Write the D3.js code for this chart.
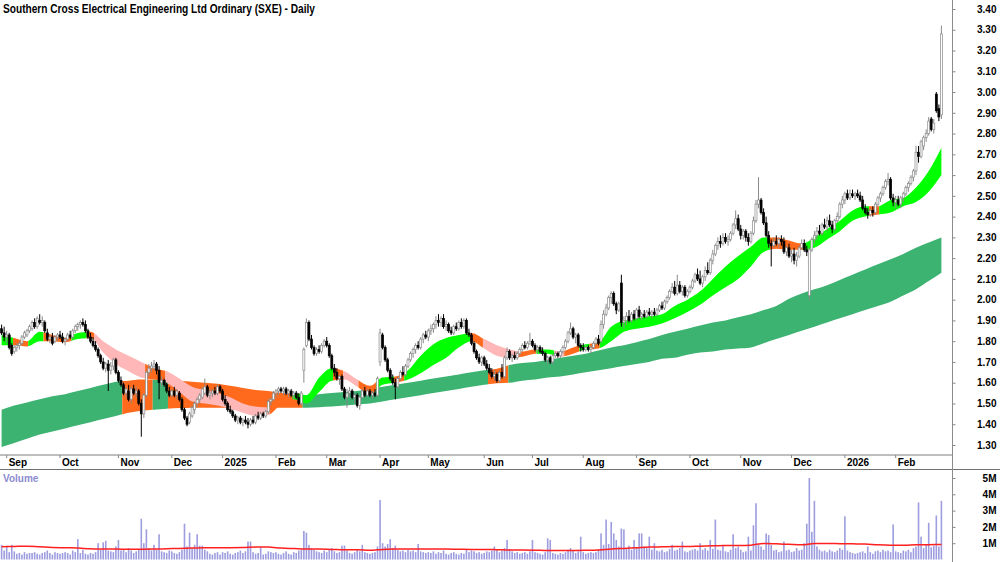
<!DOCTYPE html>
<html>
<head>
<meta charset="utf-8">
<script src="https://cdn.jsdelivr.net/npm/d3@7"></script>
<style>
  body { margin: 0; background: #fff; }
  svg { display: block; font-family: 'Liberation Sans', Arial, sans-serif; }
  .lbl { font-size: 10px; font-weight: bold; fill: #000; }
</style>
</head>
<body>
<svg id="chart" width="1000" height="562"></svg>
<script>
// daily candles, prices in cents, one row per month (Aug 29 2024 .. Feb 26 2026)
const opens = [
  186,184,182,183,178,175,177,178,179,182,183,185,186,189,187,190,189,189,184,181,182,180,182,
  183,182,180,181,183,182,185,187,188,189,188,185,182,180,178,176,173,170,167,169,166,168,171,
  165,161,159,155,156,152,157,155,156,150,145,154,165,167,168,169,166,160,161,159,156,
  154,156,154,155,152,147,143,141,144,147,150,152,153,155,158,154,155,156,155,158,
  156,152,150,147,146,144,142,143,141,142,141,140,142,141,144,143,145,144,146,151,152,
  155,156,157,156,157,155,156,154,155,153,150,166,178,189,181,177,174,176,175,178,
  180,178,173,167,165,162,163,157,153,155,156,153,154,149,153,156,154,156,154,155,154,
  170,183,177,171,166,162,160,158,162,165,164,168,171,174,176,178,177,181,183,
  182,185,186,188,190,189,191,187,188,185,184,187,186,189,187,190,184,183,179,175,172,170,
  172,169,167,165,163,164,161,165,163,172,175,172,173,172,174,176,178,177,179,180,
  178,176,177,175,174,171,172,170,173,174,173,175,177,180,184,186,182,183,178,177,176,177,176,
  177,179,181,180,188,193,196,201,203,198,195,208,189,190,192,190,193,191,195,192,193,
  192,194,193,194,193,195,197,196,199,201,204,206,203,207,204,206,202,204,206,209,212,210,
  208,211,214,213,219,222,226,228,227,230,228,229,232,236,239,234,231,233,230,228,232,238,246,
  248,242,237,231,227,226,228,227,229,228,223,225,221,222,219,221,225,227,224,202,
  224,229,231,233,232,236,235,238,236,234,238,240,246,248,251,249,251,250,251,250,248,
  244,242,241,243,242,246,249,251,254,257,258,249,247,248,246,249,251,254,256,259,
  262,271,269,274,278,280,287,282,299,292,289
];
const highs = [
  188,187,185,184,179,178,179,180,183,185,186,188,190,191,192,193,192,190,186,183,184,183,184,
  185,184,182,184,185,186,188,189,190,191,190,186,184,182,180,177,174,172,170,171,170,172,172,
  166,163,160,158,159,158,159,158,157,152,155,166,169,170,171,170,168,163,162,160,158,
  157,158,157,156,153,148,144,146,149,151,153,155,158,162,159,157,157,158,159,159,
  157,154,151,149,147,145,144,144,143,144,143,143,144,145,146,146,146,147,152,153,156,
  157,158,158,158,158,157,157,156,156,155,156,177,191,190,183,178,177,178,179,181,
  182,179,174,169,167,164,164,158,157,158,157,155,155,154,157,158,157,157,156,157,163,
  186,184,178,172,167,164,162,163,166,168,169,172,175,177,179,180,182,184,185,
  186,188,189,192,193,192,193,190,189,187,188,189,190,191,191,191,186,184,180,176,174,173,
  173,171,169,167,166,165,166,169,173,177,176,174,175,175,177,179,180,180,184,181,
  179,178,178,177,175,173,173,174,175,175,176,178,181,185,189,187,184,184,179,179,178,178,178,
  180,182,183,190,195,198,202,204,204,199,199,212,192,194,195,194,195,196,197,194,195,
  195,196,195,196,196,198,199,200,202,205,208,209,212,209,207,207,205,207,210,213,215,214,
  212,216,218,220,224,227,230,231,232,232,231,233,237,243,241,236,234,234,232,233,240,248,259,
  249,244,240,233,229,230,231,230,231,230,226,227,224,225,223,226,229,229,226,225,
  230,233,235,236,237,239,240,241,238,239,242,247,250,252,253,253,253,252,253,252,250,
  246,244,244,245,247,250,252,255,258,261,259,251,250,250,250,252,255,257,260,263,
  274,274,277,279,282,288,288,287,300,294,332
];
const lows = [
  183,180,179,176,173,174,175,176,178,181,182,184,185,186,186,188,187,184,180,179,178,179,180,
  181,179,178,180,181,181,184,185,186,187,184,181,179,177,175,172,169,166,165,156,164,166,164,
  160,158,154,153,151,150,154,153,149,134,143,153,163,165,166,164,152,158,158,155,153,
  153,153,152,151,146,142,139,140,143,145,148,150,152,154,153,152,153,154,154,155,
  151,149,146,145,143,141,140,140,139,140,138,139,140,140,142,142,143,143,145,149,151,
  153,154,155,154,154,153,153,152,152,149,149,160,177,180,176,173,173,174,174,177,
  177,172,166,163,161,159,156,152,148,153,152,150,148,147,152,153,153,153,152,153,153,
  168,176,170,165,161,159,152,157,161,163,163,167,170,172,174,176,176,179,181,
  180,183,184,186,187,187,186,185,184,183,183,185,185,186,186,183,182,178,174,171,169,168,
  168,166,164,162,161,160,160,162,162,171,171,170,171,171,173,175,176,176,178,177,
  175,174,174,173,170,169,169,169,172,172,172,174,176,179,183,181,179,177,175,175,175,175,174,
  176,178,178,179,186,192,195,198,197,193,194,187,186,188,189,189,190,190,191,190,191,
  191,192,191,192,192,194,195,195,198,200,203,202,202,203,202,201,201,203,205,208,209,207,
  206,209,212,212,217,221,224,225,226,227,226,228,231,234,233,229,229,228,226,227,231,237,244,
  241,236,230,225,216,225,226,225,226,222,221,220,218,217,216,220,224,223,221,200,
  223,227,229,231,231,234,233,235,232,233,237,239,244,246,248,248,249,248,249,247,243,
  241,239,240,240,241,245,247,250,253,255,248,245,244,245,244,247,250,252,255,257,
  260,266,268,272,276,279,281,280,290,286,287
];
const closes = [
  184,182,183,177,174,177,178,179,182,184,185,187,189,187,191,189,190,185,181,182,179,182,183,
  182,180,181,183,182,185,187,188,189,188,185,182,180,178,176,173,170,167,169,166,168,171,165,
  161,159,155,157,152,157,155,156,150,145,154,165,167,168,169,166,160,161,159,156,154,
  156,154,156,152,147,143,140,145,148,150,152,154,157,158,154,155,156,155,158,156,
  152,150,147,146,144,142,143,141,142,141,140,142,141,144,143,145,144,146,151,152,155,
  156,157,156,157,155,156,154,155,153,150,155,176,189,181,177,174,176,175,178,180,
  178,173,167,165,162,163,157,153,155,156,153,154,149,153,156,154,156,154,155,154,162,
  184,177,171,166,162,160,158,162,165,164,168,171,174,176,178,177,181,183,182,
  185,186,188,190,189,191,187,188,185,184,187,186,189,187,190,184,183,179,175,172,170,172,
  169,167,165,163,164,161,165,163,172,175,172,173,172,174,176,178,177,179,180,178,
  176,177,175,174,171,172,170,173,174,173,175,177,180,184,186,182,183,178,177,176,177,176,177,
  179,181,179,188,193,196,201,203,198,195,198,189,190,192,190,193,191,195,192,193,192,
  194,193,194,193,195,197,196,199,201,204,206,203,207,204,206,202,204,206,209,212,210,208,
  211,214,213,219,222,226,228,227,230,228,229,232,236,239,234,231,233,230,228,232,238,246,248,
  242,237,231,227,226,228,227,229,228,223,225,221,222,219,221,225,227,224,223,224,
  229,231,233,232,236,235,238,236,234,238,240,246,248,251,249,251,250,251,250,248,244,
  242,241,243,242,246,249,251,254,257,258,249,247,248,246,249,251,254,256,259,262,
  271,269,276,278,280,286,282,285,291,288,328
];
// daily volume, millions of shares
const volumes = [
  0.90,0.55,0.80,0.45,0.90,0.50,0.35,0.40,0.30,0.45,0.35,0.40,0.40,0.45,0.35,0.30,0.40,0.45,0.55,0.40,0.30,0.45,0.40,
  0.35,0.40,0.45,0.40,0.30,0.55,0.45,1.25,0.40,0.60,0.35,0.30,0.40,0.35,0.45,1.00,0.60,1.05,1.15,0.55,0.50,0.45,0.80,
  1.20,0.55,0.60,0.45,0.70,0.55,0.40,0.50,0.65,2.50,1.00,1.85,0.70,0.55,0.90,0.60,1.55,0.50,0.45,0.40,0.55,
  0.50,0.40,0.35,0.45,0.60,2.20,0.80,1.65,0.70,0.90,1.55,0.85,0.85,0.60,0.50,0.35,0.30,0.40,0.45,0.30,
  0.45,0.40,0.50,0.35,0.30,0.40,0.45,0.55,0.40,0.50,1.10,1.10,0.45,0.35,0.40,0.75,0.30,0.35,0.50,0.45,0.40,
  0.45,0.35,0.30,0.40,0.50,0.35,0.30,0.45,0.40,0.55,0.60,1.75,1.65,0.90,0.70,0.60,0.50,0.45,0.40,0.55,
  0.45,0.60,0.70,0.50,0.40,0.45,0.85,0.85,0.55,0.40,0.35,0.45,0.60,0.50,0.90,0.45,0.40,0.35,0.40,0.45,0.80,
  3.65,1.00,0.80,0.95,1.25,0.70,0.85,0.60,0.50,0.55,0.45,0.60,0.50,0.55,0.45,0.95,0.50,0.45,0.40,
  0.45,0.40,0.50,0.35,0.45,0.40,0.55,0.35,0.30,0.40,0.45,0.35,0.30,0.40,0.35,0.60,0.45,0.55,0.50,0.40,0.45,0.35,
  0.40,0.50,0.45,0.55,0.80,0.60,0.45,0.55,0.70,1.20,0.65,0.50,0.40,0.45,0.35,0.40,0.45,0.35,0.50,1.20,
  0.45,0.40,0.35,0.30,0.45,1.30,1.20,0.40,0.35,0.30,0.40,0.35,0.45,0.60,0.70,0.55,0.40,0.50,1.40,0.45,0.35,0.40,0.45,
  0.40,0.45,0.60,1.60,0.90,2.45,0.95,2.30,1.60,1.20,0.80,1.90,1.85,0.70,0.85,0.60,1.20,0.75,1.60,1.60,0.80,
  0.70,1.40,0.60,1.00,0.55,0.50,0.60,0.45,0.50,0.65,0.90,0.55,0.60,0.70,1.10,0.50,0.45,0.55,0.60,0.65,0.55,1.00,
  0.60,0.70,0.55,1.20,0.65,2.45,0.60,0.55,0.90,0.50,0.45,0.60,1.55,0.70,0.80,0.60,0.45,0.50,1.40,0.55,2.10,3.45,0.90,
  0.80,0.60,1.60,1.50,0.90,0.55,0.60,0.45,0.50,1.10,0.55,0.60,0.45,0.50,0.70,0.55,0.60,1.00,2.20,5.00,
  1.70,3.60,0.80,0.60,0.50,0.55,0.45,0.60,0.50,0.45,0.55,0.70,0.60,2.65,0.55,0.45,0.40,0.35,0.40,0.45,0.50,
  0.40,0.80,0.45,0.35,0.50,0.55,0.45,0.60,0.50,0.55,0.45,2.15,0.50,0.45,0.40,0.55,0.50,0.60,0.45,0.70,
  0.80,3.50,1.40,0.70,0.90,2.25,0.75,0.85,2.70,0.80,3.60
];

// ribbons read every 5 trading days
const ribbonStep = 5;
const shortUpper = [1.83,1.815,1.80,1.845,1.83,1.815,1.84,1.845,1.80,1.76,1.73,1.70,1.67,1.655,1.62,1.58,1.565,1.55,1.53,1.50,
  1.485,1.48,1.535,1.55,1.54,1.625,1.67,1.655,1.615,1.585,1.625,1.63,1.66,1.73,1.785,1.815,1.83,1.84,1.81,1.78,
  1.76,1.75,1.76,1.76,1.75,1.77,1.785,1.795,1.87,1.90,1.91,1.92,1.93,1.97,2.00,2.04,2.10,2.16,2.21,2.255,
  2.30,2.30,2.285,2.27,2.30,2.34,2.38,2.43,2.45,2.45,2.48,2.49,2.54,2.62,2.73];
const shortLower = [1.78,1.78,1.775,1.80,1.80,1.795,1.81,1.815,1.745,1.69,1.655,1.625,1.615,1.60,1.555,1.51,1.50,1.49,1.475,1.455,
  1.44,1.445,1.495,1.52,1.50,1.555,1.61,1.615,1.58,1.545,1.59,1.60,1.615,1.645,1.685,1.72,1.77,1.80,1.765,1.73,
  1.72,1.725,1.74,1.74,1.725,1.74,1.76,1.765,1.80,1.845,1.86,1.87,1.885,1.91,1.94,1.975,2.02,2.06,2.10,2.16,
  2.23,2.245,2.24,2.24,2.25,2.29,2.33,2.38,2.40,2.41,2.42,2.45,2.47,2.52,2.60];
const longUpper = [1.47,1.49,1.505,1.52,1.535,1.545,1.56,1.575,1.59,1.605,1.61,1.615,1.615,1.615,1.61,1.605,1.60,1.595,1.585,1.575,
  1.565,1.56,1.55,1.545,1.54,1.545,1.55,1.555,1.56,1.57,1.58,1.59,1.60,1.61,1.62,1.63,1.64,1.65,1.66,1.667,
  1.685,1.695,1.70,1.71,1.72,1.73,1.74,1.755,1.77,1.78,1.795,1.81,1.83,1.845,1.86,1.875,1.89,1.90,1.915,1.93,
  1.95,1.97,2.005,2.03,2.05,2.07,2.095,2.12,2.145,2.17,2.195,2.22,2.25,2.275,2.30];
const longLower = [1.29,1.31,1.33,1.35,1.365,1.38,1.395,1.41,1.425,1.44,1.455,1.465,1.47,1.475,1.478,1.48,1.48,1.48,1.48,1.48,
  1.48,1.48,1.48,1.48,1.48,1.482,1.485,1.49,1.495,1.50,1.51,1.52,1.53,1.54,1.55,1.56,1.57,1.58,1.59,1.597,
  1.60,1.61,1.615,1.625,1.63,1.64,1.65,1.66,1.67,1.68,1.69,1.70,1.715,1.72,1.735,1.745,1.75,1.76,1.765,1.77,
  1.79,1.81,1.83,1.85,1.87,1.89,1.91,1.93,1.95,1.97,1.99,2.02,2.05,2.09,2.13];
// ribbon colour runs: first trading day of each run and its state
const shortRunStart = [0,5,11,17,28,34,37,57,65,106,115,131,135,141,148,155,159,185,190,204,211,218,222,228,232,236,303,316,342,346];
const shortRunState = ['g','o','g','o','g','o','p','o','p','o','g','o','p','o','g','o','g','o','p','o','g','p','o','g','o','g','o','g','o','g'];
const longRunStart = [0,48,60,66,119,192,200];
const longRunState = ['g','o','g','o','g','o','g'];
// volume average, every 5 trading days, millions
const volumeAvg = [0.78,0.80,0.82,0.78,0.74,0.72,0.70,0.66,0.64,0.64,0.63,0.63,0.64,0.66,0.68,0.70,0.72,0.72,0.72,0.73,
  0.76,0.76,0.70,0.67,0.64,0.64,0.62,0.60,0.60,0.56,0.62,0.64,0.65,0.65,0.64,0.64,0.63,0.62,0.62,0.60,
  0.58,0.58,0.57,0.55,0.55,0.55,0.56,0.58,0.64,0.68,0.72,0.76,0.78,0.80,0.80,0.82,0.84,0.86,0.86,0.88,
  0.98,0.96,0.93,0.90,0.98,0.98,0.97,0.96,0.95,0.90,0.88,0.88,0.90,0.91,0.92];

const firstDay = '2024-08-29';
// exchange holidays plus days with no bar in the source
const holidays = ['2024-12-25','2024-12-26','2025-01-01','2025-01-27','2025-04-18','2025-04-21','2025-04-25',
  '2025-06-09','2025-12-25','2025-12-26','2026-01-01','2026-01-26'];
const noTrade = ['2025-06-20','2025-07-10','2025-07-11','2025-07-14','2025-09-12','2025-10-08','2025-10-09','2025-10-10'];
const monthNames = ['Jan','Feb','Mar','Apr','May','Jun','Jul','Aug','Sep','Oct','Nov','Dec'];
const priceTicks = d3.range(13, 35).map(d => d / 10);
const volumeTicks = [1, 2, 3, 4, 5];

const width = 1000;
const height = 562;
const axisX = 952;

const colors = {
  g: '#00ff00',
  o: '#ff6a1c',
  p: '#ffb7b7',
  lg: '#3cb371',
  up: '#8a8a8a'
};

const N = closes.length;
console.assert(opens.length === N && highs.length === N && lows.length === N && volumes.length === N);

const x = d3.scaleLinear().domain([0, N - 1]).range([1.6, 941.4]);
const y = d3.scaleLinear().domain([1.30, 3.40]).range([445, 9]);
const v = d3.scaleLinear().domain([0, 5]).range([559.5, 478]);
const step = x(1) - x(0);

const svg = d3.select('#chart');

drawTitle();
drawRibbon(longUpper, longLower, longRunStart, longRunState, {g: colors.lg, o: colors.o}, 'long');
drawRibbon(shortUpper, shortLower, shortRunStart, shortRunState, colors, 'short');
drawCandles();
drawVolume();
drawAxes();

function tradingDays() {
  let days = [];
  let d = new Date(firstDay + 'T00:00:00');
  let fmt = d3.timeFormat('%Y-%m-%d');
  while (days.length < N) {
    let wd = d.getDay();
    let key = fmt(d);
    if (wd !== 0 && wd !== 6 && !holidays.includes(key) && !noTrade.includes(key)) days.push(new Date(d));
    d.setDate(d.getDate() + 1);
  }
  return days;
}

function drawTitle() {
  svg.append('text')
     .attr('x', 3)
     .attr('y', 13)
     .attr('font-size', 12)
     .attr('font-weight', 'bold')
     .attr('textLength', 312)
     .attr('lengthAdjust', 'spacingAndGlyphs')
     .text('Southern Cross Electrical Engineering Ltd Ordinary (SXE) - Daily');
}

function drawRibbon(upper, lower, runStart, runState, palette, id) {
  let pts = upper.map((u, k) => ({i: k * ribbonStep, hi: u, lo: lower[k]}));
  let area = d3.area()
               .x(d => x(d.i))
               .y0(d => y(d.lo))
               .y1(d => y(d.hi))
               .curve(d3.curveMonotoneX);

  let defs = svg.append('defs');
  let group = svg.append('g').attr('id', id + '-ribbon');

  runStart.forEach((s, r) => {
    let x0 = r === 0 ? x(0) - 2 : x(s) - step / 2;
    let x1 = r === runStart.length - 1 ? x(N - 1) + 2 : x(runStart[r + 1]) - step / 2;
    defs.append('clipPath')
        .attr('id', id + '-clip-' + r)
        .append('rect')
        .attr('x', x0)
        .attr('y', 0)
        .attr('width', x1 - x0)
        .attr('height', height);
    group.append('path')
         .attr('d', area(pts))
         .attr('fill', palette[runState[r]])
         .attr('clip-path', 'url(#' + id + '-clip-' + r + ')');
  });
}

function drawCandles() {
  let data = closes.map((c, i) => ({i: i, o: opens[i] / 100, h: highs[i] / 100, l: lows[i] / 100, c: c / 100}));
  let group = svg.append('g').attr('id', 'candles');

  group.selectAll('line')
       .data(data)
       .enter().append('line')
       .attr('x1', d => x(d.i))
       .attr('x2', d => x(d.i))
       .attr('y1', d => y(d.h))
       .attr('y2', d => y(d.l))
       .attr('stroke', d => d.c >= d.o ? colors.up : '#000')
       .attr('stroke-width', 1);

  group.selectAll('rect')
       .data(data)
       .enter().append('rect')
       .attr('x', d => x(d.i) - 1)
       .attr('y', d => y(Math.max(d.o, d.c)))
       .attr('width', 2)
       .attr('height', d => Math.max(1, Math.abs(y(d.o) - y(d.c))))
       .attr('fill', d => d.c >= d.o ? '#fff' : '#000')
       .attr('stroke', d => d.c >= d.o ? colors.up : '#000')
       .attr('stroke-width', 0.7);
}

function drawVolume() {
  let group = svg.append('g').attr('id', 'volume');

  group.selectAll('rect')
       .data(volumes)
       .enter().append('rect')
       .attr('x', (d, i) => x(i) - 0.8)
       .attr('y', d => v(d))
       .attr('width', 1.6)
       .attr('height', d => v(0) - v(d))
       .attr('fill', '#9d9de0');

  let line = d3.line()
               .x((d, k) => x(k * ribbonStep))
               .y(d => v(d))
               .curve(d3.curveMonotoneX);

  group.append('path')
       .attr('d', line(volumeAvg))
       .attr('fill', 'none')
       .attr('stroke', '#ff2020')
       .attr('stroke-width', 1.5);

  svg.append('text')
     .attr('x', 3)
     .attr('y', 482)
     .attr('font-size', 10)
     .attr('font-weight', 'bold')
     .attr('fill', '#8c8cd0')
     .text('Volume');
}

function drawAxes() {
  // date strip
  svg.append('line')
     .attr('x1', 0).attr('x2', axisX)
     .attr('y1', 455).attr('y2', 455)
     .attr('stroke', '#a8a8a8').attr('stroke-width', 1.5);
  svg.append('line')
     .attr('x1', 0).attr('x2', width)
     .attr('y1', 469.5).attr('y2', 469.5)
     .attr('stroke', '#707070');
  svg.append('line')
     .attr('x1', axisX + 0.5).attr('x2', axisX + 0.5)
     .attr('y1', 0).attr('y2', height)
     .attr('stroke', '#8c8c8c');

  let days = tradingDays();
  let months = days.map((d, i) => ({i: i, d: d}))
                   .filter(o => o.i > 0 && o.d.getMonth() !== days[o.i - 1].getMonth());

  let mg = svg.append('g').attr('id', 'months');
  mg.selectAll('line')
    .data(months)
    .enter().append('line')
    .attr('x1', o => x(o.i)).attr('x2', o => x(o.i))
    .attr('y1', 455).attr('y2', 458)
    .attr('stroke', '#888');
  mg.selectAll('text')
    .data(months)
    .enter().append('text')
    .attr('class', 'lbl')
    .attr('x', o => x(o.i) + 2)
    .attr('y', 466)
    .text(o => o.d.getMonth() === 0 ? o.d.getFullYear() : monthNames[o.d.getMonth()]);

  let pAxis = d3.axisRight(y)
                .tickValues(priceTicks)
                .tickSize(3)
                .tickFormat(d3.format('.2f'));
  let pg = svg.append('g')
              .attr('transform', 'translate(' + (axisX + 0.5) + ',0)')
              .call(pAxis);
  styleAxis(pg);

  let vAxis = d3.axisRight(v)
                .tickValues(volumeTicks)
                .tickSize(3)
                .tickFormat(d => d + 'M');
  let vg = svg.append('g')
              .attr('transform', 'translate(' + (axisX + 0.5) + ',0)')
              .call(vAxis);
  styleAxis(vg);
}

function styleAxis(g) {
  g.select('.domain').remove();
  g.selectAll('.tick line').attr('stroke', '#888');
  g.selectAll('.tick text')
   .attr('class', 'lbl')
   .attr('x', 44)
   .attr('text-anchor', 'end')
   .attr('font-family', null)
   .attr('font-size', null);
}
</script>
</body>
</html>
